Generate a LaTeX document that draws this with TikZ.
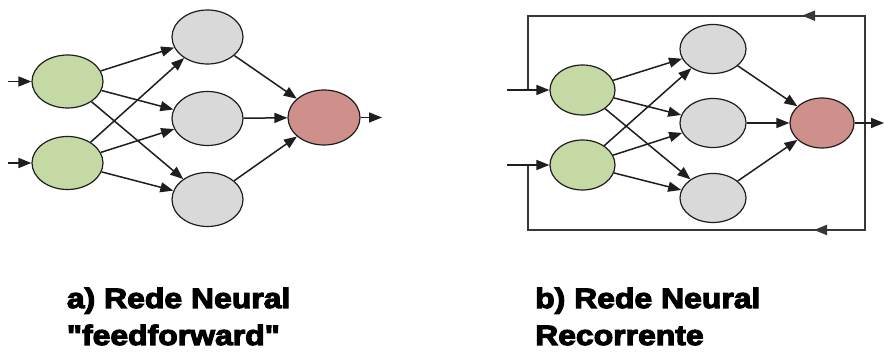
\documentclass[tikz,border=0pt]{standalone}
\usepackage{fontspec}
\usetikzlibrary{shapes.geometric,arrows.meta}
\newfontfamily\lblfont[FakeStretch=1.14,FakeBold=4]{Liberation Sans Bold}
\definecolor{ingreen}{RGB}{197,217,165}
\definecolor{hidgray}{RGB}{217,217,217}
\definecolor{outred}{RGB}{207,143,138}
\definecolor{edgecol}{RGB}{30,30,30}
\definecolor{framecol}{RGB}{55,55,55}
\tikzset{
  neuron/.style={ellipse, draw=edgecol, line width=1.2pt, inner sep=0pt},
  lin/.style={neuron, fill=ingreen, minimum width=71pt, minimum height=53pt},
  lhid/.style={neuron, fill=hidgray, minimum width=71pt, minimum height=54pt},
  lout/.style={neuron, fill=outred, minimum width=72pt, minimum height=55pt},
  rin/.style={neuron, fill=ingreen, minimum width=65pt, minimum height=50pt},
  rhid/.style={neuron, fill=hidgray, minimum width=66pt, minimum height=49pt},
  rout/.style={neuron, fill=outred, minimum width=64pt, minimum height=50pt},
  conn/.style={draw=edgecol, line width=1.5pt, -{Triangle[length=13pt,width=10pt]}},
  frameline/.style={draw=framecol, line width=2pt},
  caption/.style={anchor=base west, inner sep=0pt, font=\lblfont\fontsize{28}{30}\selectfont}
}
\begin{document}
\begin{tikzpicture}[x=1pt,y=-1pt]
\useasboundingbox[fill=white] (0,0) rectangle (884,352);
% ---------- a) feedforward ----------
\node[lin]  (a1) at (67.5,81.5) {};
\node[lin]  (a2) at (67.5,163) {};
\node[lhid] (ah1) at (207.5,37) {};
\node[lhid] (ah2) at (207.5,118.5) {};
\node[lhid] (ah3) at (207.5,199.5) {};
\node[lout] (ao) at (324,117.5) {};
\coordinate (ain1) at (8,81.5);
\coordinate (ain2) at (8,163);
\coordinate (aout) at (382,117.5);
\draw[conn] (ain1) -- (a1);
\draw[conn] (ain2) -- (a2);
\foreach \s in {a1,a2}{
  \foreach \t in {ah1,ah2,ah3}{
    \draw[conn] (\s) -- (\t);
  }
}
\foreach \s in {ah1,ah2,ah3}{
  \draw[conn] (\s) -- (ao);
}
\draw[conn] (ao) -- (aout);
% ---------- b) recorrente ----------
\node[rin]  (b1) at (582.5,90) {};
\node[rin]  (b2) at (582.5,165) {};
\node[rhid] (bh1) at (713,49) {};
\node[rhid] (bh2) at (713,123) {};
\node[rhid] (bh3) at (713,198) {};
\node[rout] (bo) at (822,123) {};
\coordinate (bin1) at (507,90);
\coordinate (bin2) at (507,165);
\coordinate (bout) at (884,123);
\coordinate (fj1) at (528,90);
\coordinate (fj2) at (528,165);
\coordinate (ftl) at (528,15.7);
\coordinate (ftr) at (865,15.7);
\coordinate (fbr) at (865,230);
\coordinate (fbl) at (528,230);
\coordinate (ftarrow) at (802,15.7);
\coordinate (fbarrow) at (814,230);
\draw[frameline] (fj1) -- (ftl) -- (ftr) -- (fbr) -- (fbl) -- (fj2);
\draw[conn, draw=framecol, line width=2pt] (ftr) -- (ftarrow);
\draw[conn, draw=framecol, line width=2pt] (fbr) -- (fbarrow);
\draw[conn] (bin1) -- (b1);
\draw[conn] (bin2) -- (b2);
\foreach \s in {b1,b2}{
  \foreach \t in {bh1,bh2,bh3}{
    \draw[conn] (\s) -- (\t);
  }
}
\foreach \s in {bh1,bh2,bh3}{
  \draw[conn] (\s) -- (bo);
}
\draw[conn] (bo) -- (bout);
% ---------- captions ----------
\node[caption] (ca1) at (66.7,308) {a) Rede Neural};
\node[caption] (ca2) at (66.7,345) {"feedforward"};
\node[caption] (cb1) at (535,308) {b) Rede Neural};
\node[caption] (cb2) at (535,345) {Recorrente};
\end{tikzpicture}
\end{document}
